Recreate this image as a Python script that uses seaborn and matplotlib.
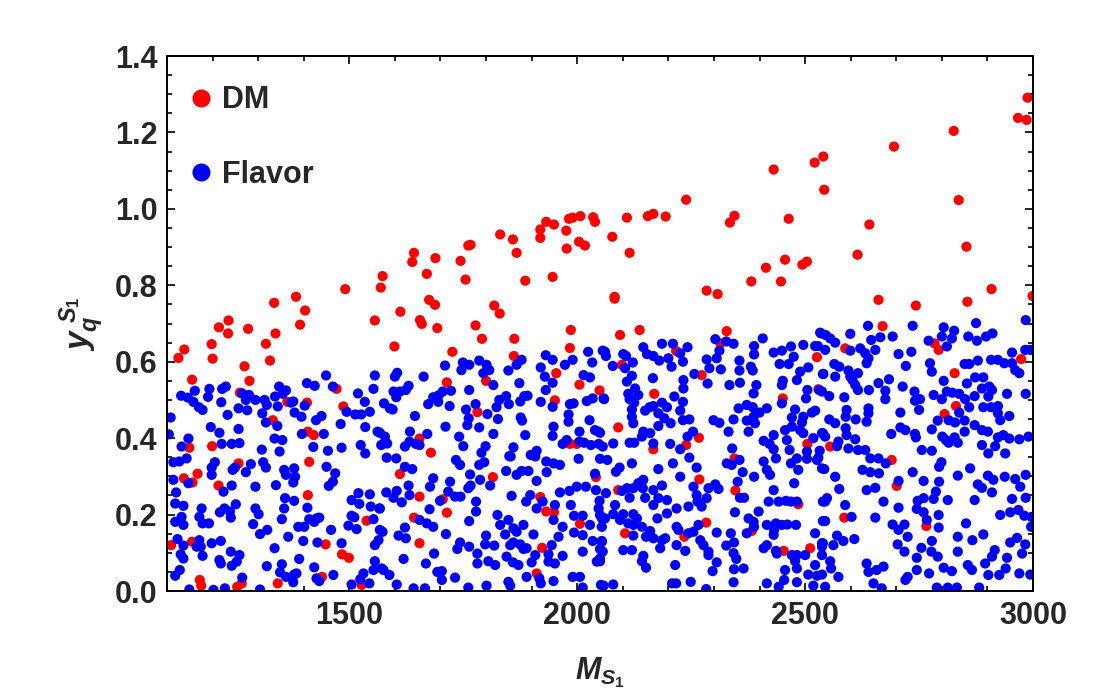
#!/usr/bin/env python3
"""
Scatter de puntos DM y Flavor en el plano (M_S1, y_q^S1)
"""

import pandas as pd
import matplotlib
matplotlib.use('Agg')
import matplotlib.pyplot as plt
import seaborn as sns
from matplotlib.lines import Line2D
from matplotlib.ticker import MultipleLocator, FormatStrFormatter

# Puntos: (M_S1, y_q)
dm_points = [
    (1573, 0.824), (1569, 0.794), (1491, 0.790), (1383, 0.770), (1335, 0.754), (1403, 0.734),
    (1235, 0.708), (1556, 0.708), (1214, 0.690), (1278, 0.686), (1392, 0.697),
    (1642, 0.885), (1638, 0.861), (1689, 0.871), (1670, 0.830), (1744, 0.864), (1761, 0.904),
    (1766, 0.906), (1755, 0.815), (1831, 0.933), (1859, 0.920), (1867, 0.885), (1886, 0.812),
    (1946, 0.822), (1919, 0.946), (1919, 0.924), (1932, 0.966), (1949, 0.959), (1976, 0.943),
    (1982, 0.974), (1990, 0.977), (2007, 0.981), (2035, 0.978), (2039, 0.966), (1977, 0.896),
    (2004, 0.914), (2017, 0.904), (1612, 0.731), (1675, 0.762), (1688, 0.749), (1655, 0.709),
    (1659, 0.699), (1693, 0.688), (1777, 0.695), (1818, 0.747), (1830, 0.726), (1986, 0.683),
    (2077, 0.927), (2109, 0.977), (2115, 0.885), (2155, 0.981), (2167, 0.987), (2194, 0.980),
    (2239, 1.024), (2335, 0.964), (2345, 0.982), (2431, 1.103), (2464, 0.974), (2521, 1.121),
    (2540, 1.137), (2542, 1.050), (2082, 0.770), (2082, 0.765), (2284, 0.786), (2308, 0.777),
    (2382, 0.810), (2414, 0.846), (2447, 0.810), (2456, 0.867), (2494, 0.854), (2504, 0.862),
    (2137, 0.683), (2328, 0.680),
    (2695, 1.163), (2826, 1.204), (2837, 1.023), (2967, 1.238), (2986, 1.233), (2988, 1.291),
    (2641, 0.959), (2615, 0.880), (2854, 0.901), (2661, 0.762), (2743, 0.747), (2856, 0.757),
    (2909, 0.790), (2999, 0.772), (2670, 0.693),
    (1125, 0.610), (1138, 0.632), (1198, 0.646), (1200, 0.608), (1234, 0.674), (1317, 0.647),
    (1338, 0.674), (1326, 0.603), (1270, 0.588), (1281, 0.550), (1155, 0.553), (1472, 0.529),
    (1260, 0.519), (1364, 0.495), (1407, 0.493), (1487, 0.483), (1332, 0.447), (1409, 0.417),
    (1422, 0.408), (1149, 0.375), (1199, 0.379),
    (1137, 0.295), (1156, 0.284), (1167, 0.307), (1213, 0.276), (1257, 0.334), (1412, 0.338),
    (1409, 0.251), (1538, 0.184), (1109, 0.120), (1155, 0.129), (1448, 0.122), (1484, 0.096),
    (1499, 0.087), (1440, 0.037), (1343, 0.020), (1172, 0.029), (1175, 0.014), (1254, 0.011),
    (1264, 0.020), (1527, 0.016),
    (1599, 0.640), (1726, 0.626), (1791, 0.660), (1862, 0.660), (1861, 0.615), (1984, 0.636),
    (1714, 0.546), (1800, 0.550), (1954, 0.570), (2005, 0.540), (2049, 0.525), (1951, 0.499),
    (1781, 0.468), (1654, 0.399), (1679, 0.362), (1984, 0.385), (1999, 0.385),
    (1611, 0.306), (1654, 0.247), (1705, 0.240), (1642, 0.192), (1714, 0.205), (1654, 0.125),
    (1815, 0.298), (1919, 0.246), (1932, 0.208), (1949, 0.206), (2006, 0.176), (1923, 0.113),
    (1911, 0.046), (2041, 0.298),
    (2094, 0.670), (2217, 0.628), (2314, 0.648), (2098, 0.592), (2273, 0.565), (2169, 0.516),
    (2526, 0.612), (2529, 0.528), (2451, 0.504), (2090, 0.428), (2267, 0.401), (2239, 0.382),
    (2167, 0.371), (2505, 0.385),
    (2268, 0.292), (2347, 0.263), (2283, 0.179), (2105, 0.151), (2235, 0.142), (2383, 0.157),
    (2511, 0.112), (2485, 0.227), (2453, 0.105), (2345, 0.347), (2090, 0.264),
    (2588, 0.635), (2784, 0.648), (2793, 0.631), (2974, 0.607), (2828, 0.570), (2831, 0.484),
    (2806, 0.463), (2555, 0.378),
    (2690, 0.343), (2701, 0.275), (2586, 0.192), (2766, 0.170),
]

flavor_points = [
    # 1100-1580, parte alta
    (1449, 0.564), (1556, 0.564), (1407, 0.544), (1424, 0.537), (1464, 0.535), (1553, 0.529),
    (1519, 0.517), (1534, 0.495), (1576, 0.491), (1131, 0.511), (1146, 0.506), (1161, 0.524),
    (1158, 0.495), (1170, 0.481), (1178, 0.474), (1193, 0.529), (1190, 0.508), (1221, 0.529),
    (1229, 0.535), (1219, 0.494), (1233, 0.461), (1265, 0.517), (1280, 0.513), (1273, 0.500),
    (1294, 0.500), (1257, 0.478), (1276, 0.473), (1314, 0.500), (1319, 0.487), (1337, 0.509),
    (1343, 0.483), (1309, 0.465), (1346, 0.535), (1361, 0.525), (1354, 0.516), (1372, 0.493),
    (1377, 0.496), (1380, 0.467), (1395, 0.456), (1402, 0.485), (1427, 0.447), (1439, 0.458),
    (1513, 0.462), (1526, 0.462), (1545, 0.469), (1494, 0.469), (1481, 0.437), (1535, 0.429),
    (1562, 0.417), (1108, 0.454), (1104, 0.410), (1147, 0.399), (1132, 0.378), (1196, 0.429),
    (1215, 0.414), (1220, 0.385), (1242, 0.385), (1259, 0.387), (1257, 0.424), (1317, 0.441),
    (1342, 0.432), (1336, 0.399), (1353, 0.395), (1308, 0.370), (1347, 0.365), (1396, 0.411),
    (1444, 0.411), (1421, 0.377), (1453, 0.367), (1483, 0.375), (1525, 0.382), (1570, 0.382),
    (1535, 0.360),
    # 1100-1580, parte baja
    (1114, 0.337), (1127, 0.339), (1143, 0.347), (1114, 0.291), (1147, 0.282), (1120, 0.258),
    (1118, 0.229), (1136, 0.223), (1198, 0.323), (1205, 0.337), (1198, 0.304), (1244, 0.317),
    (1249, 0.323), (1273, 0.311), (1284, 0.332), (1311, 0.337), (1317, 0.323), (1224, 0.260),
    (1242, 0.276), (1294, 0.273), (1339, 0.277), (1357, 0.317), (1361, 0.304), (1379, 0.321),
    (1381, 0.299), (1377, 0.284), (1359, 0.243), (1379, 0.236), (1450, 0.325), (1469, 0.308),
    (1464, 0.286), (1455, 0.275), (1520, 0.256), (1545, 0.253), (1505, 0.238), (1522, 0.228),
    (1547, 0.221), (1566, 0.216), (1176, 0.216), (1171, 0.194), (1178, 0.177), (1192, 0.177),
    (1216, 0.206), (1226, 0.216), (1240, 0.192), (1251, 0.227), (1238, 0.208), (1294, 0.216),
    (1301, 0.201), (1289, 0.175), (1357, 0.216), (1352, 0.188), (1408, 0.218), (1412, 0.188),
    (1428, 0.190), (1434, 0.192), (1423, 0.181), (1388, 0.168), (1401, 0.168), (1304, 0.149),
    (1320, 0.160), (1366, 0.142), (1399, 0.131), (1430, 0.127), (1460, 0.160), (1483, 0.125),
    (1498, 0.171), (1511, 0.193), (1516, 0.162), (1505, 0.197), (1553, 0.188), (1567, 0.160),
    (1564, 0.133), (1556, 0.120), (1118, 0.181), (1136, 0.173), (1132, 0.194), (1123, 0.136),
    (1136, 0.119), (1130, 0.096), (1136, 0.085), (1128, 0.055), (1118, 0.040), (1171, 0.133),
    (1174, 0.116), (1178, 0.092), (1165, 0.116), (1198, 0.125), (1218, 0.131), (1215, 0.081),
    (1218, 0.072), (1240, 0.103), (1259, 0.094), (1253, 0.077), (1242, 0.066), (1265, 0.035),
    (1336, 0.112), (1319, 0.065), (1352, 0.070), (1348, 0.049), (1361, 0.037), (1379, 0.043),
    (1384, 0.046), (1377, 0.023), (1390, 0.084), (1423, 0.062), (1428, 0.033), (1434, 0.026),
    (1465, 0.042), (1505, 0.017), (1524, 0.031), (1531, 0.046), (1544, 0.020), (1553, 0.055),
    (1571, 0.059), (1556, 0.078), (1149, 0.004), (1227, 0.007), (1304, 0.004), (1202, 0.003),
    # 1570-2060, parte alta
    (1600, 0.561), (1605, 0.571), (1663, 0.561), (1710, 0.590), (1749, 0.598), (1746, 0.578),
    (1763, 0.592), (1785, 0.603), (1801, 0.592), (1807, 0.578), (1794, 0.570), (1816, 0.539),
    (1849, 0.577), (1867, 0.592), (1878, 0.605), (1931, 0.617), (1946, 0.605), (1920, 0.585),
    (1973, 0.592), (1990, 0.605), (2024, 0.626), (2033, 0.598), (2056, 0.629), (2014, 0.565),
    (2028, 0.559), (1929, 0.561), (1946, 0.545), (1931, 0.526), (1597, 0.522), (1603, 0.507),
    (1624, 0.526), (1630, 0.537), (1611, 0.522), (1589, 0.478), (1595, 0.475), (1644, 0.458),
    (1673, 0.489), (1684, 0.507), (1696, 0.512), (1705, 0.522), (1723, 0.524), (1720, 0.484),
    (1695, 0.495), (1763, 0.526), (1756, 0.475), (1777, 0.489), (1762, 0.452), (1759, 0.434),
    (1785, 0.428), (1803, 0.463), (1823, 0.481), (1829, 0.500), (1844, 0.510), (1850, 0.489),
    (1826, 0.450), (1873, 0.544), (1875, 0.496), (1884, 0.510), (1891, 0.511), (1876, 0.454),
    (1879, 0.446), (1920, 0.495), (1946, 0.482), (1984, 0.489), (1992, 0.491), (1981, 0.462),
    (1981, 0.443), (2021, 0.497), (2034, 0.504), (2058, 0.504), (2027, 0.447), (2047, 0.417),
    (2039, 0.421), (1948, 0.430), (1946, 0.406), (1968, 0.385), (1977, 0.395), (2005, 0.417),
    (2005, 0.391), (2015, 0.388), (2030, 0.382), (2047, 0.385), (2056, 0.378), (1567, 0.414),
    (1578, 0.404), (1583, 0.386), (1633, 0.417), (1632, 0.391), (1622, 0.378), (1646, 0.385),
    (1654, 0.382), (1711, 0.430), (1671, 0.411), (1741, 0.404), (1750, 0.379), (1816, 0.411),
    (1886, 0.408), (1799, 0.379), (1790, 0.362), (1860, 0.376), (1851, 0.353), (1911, 0.367),
    (1898, 0.356),
    # 1570-2060, parte baja
    (1582, 0.349), (1603, 0.347), (1622, 0.325), (1638, 0.319), (1734, 0.343), (1743, 0.330),
    (1765, 0.305), (1785, 0.330), (1796, 0.337), (1787, 0.291), (1766, 0.276), (1761, 0.269),
    (1744, 0.247), (1732, 0.247), (1721, 0.286), (1717, 0.260), (1699, 0.236), (1684, 0.295),
    (1677, 0.273), (1630, 0.276), (1632, 0.251), (1615, 0.232), (1597, 0.244), (1581, 0.258),
    (1604, 0.262), (1809, 0.276), (1844, 0.314), (1867, 0.304), (1878, 0.314), (1893, 0.314),
    (1911, 0.288), (1933, 0.311), (1932, 0.339), (1948, 0.334), (1962, 0.330), (1854, 0.352),
    (1908, 0.352), (1856, 0.249), (1778, 0.234), (1778, 0.208), (1763, 0.183), (1676, 0.214),
    (1654, 0.186), (1670, 0.177), (1684, 0.168), (1622, 0.166), (1608, 0.145), (1624, 0.138),
    (1573, 0.155), (1567, 0.216), (1712, 0.149), (1743, 0.127), (1737, 0.110), (1763, 0.116),
    (1781, 0.098), (1781, 0.072), (1800, 0.145), (1798, 0.122), (1818, 0.119), (1825, 0.199),
    (1831, 0.173), (1849, 0.186), (1860, 0.164), (1882, 0.173), (1867, 0.155), (1842, 0.148),
    (1853, 0.120), (1860, 0.127), (1875, 0.122), (1882, 0.110), (1889, 0.112), (1888, 0.234),
    (1897, 0.251), (1911, 0.216), (1924, 0.234), (1951, 0.225), (1948, 0.186), (1968, 0.168),
    (1959, 0.142), (1944, 0.120), (1937, 0.096), (1937, 0.077), (1951, 0.072), (1968, 0.092),
    (1904, 0.148), (1908, 0.094), (1900, 0.075), (1962, 0.258), (1983, 0.262), (1986, 0.225),
    (1999, 0.273), (2019, 0.273), (2041, 0.264), (2039, 0.307), (2050, 0.346), (2003, 0.346),
    (1993, 0.197), (2012, 0.197), (2028, 0.173), (2047, 0.216), (2049, 0.236), (2054, 0.190),
    (2054, 0.168), (1993, 0.153), (2012, 0.146), (2034, 0.131), (2054, 0.131), (2012, 0.103),
    (2050, 0.110), (2043, 0.077), (2050, 0.085), (1820, 0.068), (1805, 0.078), (1845, 0.090),
    (1859, 0.075), (1871, 0.068), (1668, 0.072), (1686, 0.098), (1693, 0.050), (1703, 0.052),
    (1703, 0.029), (1732, 0.035), (1619, 0.084), (1575, 0.055), (1588, 0.042), (1604, 0.017),
    (1641, 0.007), (1666, 0.007), (1761, 0.009), (1801, 0.014), (1849, 0.024), (1853, 0.014),
    (1889, 0.037), (1917, 0.033), (1920, 0.020), (1948, 0.026), (1990, 0.037), (2006, 0.037),
    (2012, 0.009), (2052, 0.016),
    # 2050-2540, parte alta
    (2061, 0.626), (2063, 0.615), (2101, 0.620), (2107, 0.615), (2122, 0.598), (2078, 0.589),
    (2105, 0.583), (2145, 0.638), (2153, 0.620), (2167, 0.615), (2180, 0.603), (2186, 0.647),
    (2210, 0.647), (2226, 0.622), (2242, 0.638), (2200, 0.609), (2207, 0.587), (2232, 0.600),
    (2257, 0.568), (2284, 0.606), (2303, 0.659), (2306, 0.609), (2327, 0.653), (2343, 0.647),
    (2312, 0.629), (2290, 0.583), (2315, 0.580), (2356, 0.603), (2356, 0.577), (2381, 0.587),
    (2388, 0.641), (2388, 0.619), (2407, 0.661), (2385, 0.577), (2431, 0.624), (2449, 0.629),
    (2444, 0.594), (2464, 0.594), (2469, 0.640), (2475, 0.613), (2496, 0.644), (2522, 0.641),
    (2535, 0.674), (2489, 0.574), (2507, 0.585), (2539, 0.568),
    (2109, 0.548), (2120, 0.563), (2112, 0.516), (2115, 0.502), (2127, 0.530), (2134, 0.513),
    (2125, 0.493), (2166, 0.557), (2059, 0.502), (2120, 0.475), (2120, 0.456), (2123, 0.439),
    (2149, 0.472), (2159, 0.481), (2167, 0.484), (2178, 0.465), (2186, 0.493), (2197, 0.481),
    (2191, 0.452), (2205, 0.439), (2145, 0.417), (2160, 0.413), (2178, 0.432), (2226, 0.472),
    (2232, 0.495), (2233, 0.552), (2233, 0.530), (2213, 0.509), (2232, 0.447), (2246, 0.449),
    (2254, 0.417), (2242, 0.404), (2142, 0.404), (2167, 0.386), (2125, 0.388), (2115, 0.388),
    (2079, 0.386), (2050, 0.414), (2204, 0.385), (2226, 0.371),
    (2286, 0.543), (2334, 0.539), (2357, 0.545), (2393, 0.539), (2387, 0.517), (2354, 0.478),
    (2372, 0.487), (2385, 0.481), (2416, 0.478), (2400, 0.467), (2387, 0.456), (2372, 0.446),
    (2390, 0.439), (2343, 0.449), (2299, 0.447), (2312, 0.440), (2332, 0.417), (2340, 0.373),
    (2376, 0.417),
    (2451, 0.550), (2449, 0.539), (2482, 0.552), (2505, 0.526), (2502, 0.504), (2537, 0.522),
    (2449, 0.491), (2478, 0.475), (2471, 0.454), (2496, 0.456), (2493, 0.441), (2515, 0.467),
    (2489, 0.421), (2471, 0.430), (2456, 0.421), (2431, 0.408), (2409, 0.393), (2422, 0.385),
    (2460, 0.395), (2496, 0.413), (2518, 0.400), (2539, 0.413), (2431, 0.371), (2466, 0.369),
    (2504, 0.365), (2532, 0.367),
    # 2050-2540, parte baja
    (2066, 0.343), (2085, 0.312), (2093, 0.323), (2120, 0.334), (2178, 0.319), (2210, 0.334),
    (2246, 0.349), (2226, 0.299), (2262, 0.323), (2328, 0.334), (2339, 0.330), (2356, 0.343),
    (2363, 0.311), (2388, 0.299), (2352, 0.286), (2409, 0.339), (2416, 0.317), (2423, 0.304),
    (2436, 0.347), (2469, 0.334), (2485, 0.317), (2482, 0.347), (2504, 0.346), (2526, 0.343),
    (2537, 0.321), (2476, 0.282), (2431, 0.264),
    (2063, 0.256), (2083, 0.225), (2098, 0.262), (2109, 0.269), (2123, 0.269), (2115, 0.244),
    (2134, 0.282), (2145, 0.291), (2144, 0.269), (2149, 0.244), (2167, 0.264), (2167, 0.225),
    (2186, 0.276), (2178, 0.243), (2197, 0.238), (2197, 0.203), (2176, 0.190), (2218, 0.216),
    (2244, 0.221), (2255, 0.273), (2262, 0.251), (2264, 0.234), (2273, 0.221), (2284, 0.243),
    (2288, 0.269), (2303, 0.279), (2310, 0.267), (2357, 0.244), (2366, 0.244), (2346, 0.206),
    (2398, 0.208), (2376, 0.190), (2387, 0.181), (2388, 0.168), (2372, 0.151), (2420, 0.234),
    (2442, 0.234), (2458, 0.236), (2469, 0.234), (2482, 0.234), (2416, 0.173), (2436, 0.177),
    (2449, 0.173), (2461, 0.174), (2480, 0.173), (2431, 0.147), (2432, 0.160), (2539, 0.234),
    (2539, 0.183),
    (2050, 0.199), (2061, 0.190), (2079, 0.201), (2094, 0.186), (2101, 0.201), (2112, 0.177),
    (2123, 0.201), (2123, 0.173), (2131, 0.190), (2142, 0.168), (2123, 0.145), (2151, 0.142),
    (2160, 0.157), (2167, 0.138), (2186, 0.133), (2193, 0.138), (2182, 0.112), (2222, 0.160),
    (2218, 0.168), (2244, 0.151), (2255, 0.155), (2266, 0.173), (2270, 0.133), (2277, 0.120),
    (2288, 0.103), (2288, 0.094), (2306, 0.153), (2306, 0.075), (2337, 0.151), (2344, 0.127),
    (2327, 0.119), (2343, 0.099), (2349, 0.084), (2344, 0.057), (2365, 0.059), (2297, 0.052),
    (2215, 0.068), (2218, 0.120), (2237, 0.105), (2142, 0.078), (2145, 0.092), (2151, 0.061),
    (2120, 0.107), (2101, 0.107), (2054, 0.129), (2056, 0.103), (2050, 0.078), (2409, 0.112),
    (2416, 0.120), (2436, 0.105), (2438, 0.098), (2471, 0.094), (2482, 0.094), (2478, 0.078),
    (2500, 0.094), (2456, 0.055), (2482, 0.059), (2507, 0.043), (2526, 0.040), (2539, 0.125),
    (2537, 0.094),
    (2058, 0.014), (2079, 0.017), (2208, 0.020), (2217, 0.020), (2249, 0.024), (2283, 0.005),
    (2343, 0.023), (2416, 0.020), (2442, 0.011), (2454, 0.029), (2482, 0.023), (2518, 0.014),
    # 2520-3000, parte alta
    (2638, 0.694), (2736, 0.694), (2804, 0.690), (2827, 0.681), (2875, 0.701), (2984, 0.709),
    (2533, 0.676), (2545, 0.670), (2555, 0.661), (2566, 0.650), (2544, 0.631), (2528, 0.641),
    (2599, 0.673), (2645, 0.657), (2665, 0.664), (2692, 0.666), (2654, 0.631), (2621, 0.635),
    (2632, 0.622), (2639, 0.609), (2635, 0.596), (2599, 0.629), (2705, 0.620), (2733, 0.626),
    (2721, 0.589), (2771, 0.655), (2800, 0.666), (2822, 0.661), (2811, 0.640), (2858, 0.666),
    (2877, 0.655), (2897, 0.666), (2911, 0.674), (2850, 0.594), (2860, 0.594), (2879, 0.603),
    (2908, 0.605), (2923, 0.605), (2954, 0.624), (2983, 0.631), (2994, 0.631), (2937, 0.596),
    (2954, 0.596), (2961, 0.578), (2970, 0.570), (2774, 0.596), (2778, 0.574), (2804, 0.550),
    (2540, 0.568), (2566, 0.561), (2564, 0.594), (2575, 0.587), (2595, 0.577), (2599, 0.561),
    (2616, 0.570), (2604, 0.552), (2610, 0.539), (2616, 0.526), (2640, 0.526), (2661, 0.544),
    (2684, 0.554), (2676, 0.524), (2676, 0.502), (2714, 0.535), (2740, 0.522), (2741, 0.498),
    (2752, 0.502), (2750, 0.474), (2709, 0.467), (2639, 0.478), (2639, 0.465), (2635, 0.443),
    (2611, 0.449), (2591, 0.474), (2589, 0.456), (2553, 0.510), (2586, 0.507), (2531, 0.526),
    (2553, 0.449), (2566, 0.439), (2522, 0.472),
    (2782, 0.513), (2800, 0.502), (2811, 0.522), (2823, 0.519), (2838, 0.516), (2851, 0.502),
    (2860, 0.481), (2872, 0.510), (2888, 0.530), (2904, 0.535), (2910, 0.526), (2902, 0.509),
    (2891, 0.481), (2908, 0.481), (2923, 0.484), (2923, 0.465), (2928, 0.447), (2948, 0.458),
    (2943, 0.516), (2984, 0.516), (2891, 0.559), (2873, 0.559), (2855, 0.543),
    (2791, 0.446), (2815, 0.447), (2829, 0.441), (2838, 0.467), (2850, 0.446), (2850, 0.417),
    (2872, 0.434), (2828, 0.402), (2801, 0.404), (2809, 0.395), (2778, 0.423), (2741, 0.411),
    (2743, 0.402), (2709, 0.428), (2720, 0.421), (2689, 0.411), (2589, 0.426), (2591, 0.408),
    (2610, 0.397), (2573, 0.391), (2570, 0.379), (2544, 0.404), (2537, 0.413), (2595, 0.373),
    (2616, 0.369), (2632, 0.369), (2888, 0.421), (2901, 0.417), (2923, 0.402), (2935, 0.408),
    (2948, 0.399), (2888, 0.382), (2917, 0.379), (2970, 0.397), (2990, 0.404), (2902, 0.360),
    (2939, 0.360), (2835, 0.388), (2756, 0.369), (2778, 0.367), (2815, 0.388),
    # 2520-3000, parte baja
    (2529, 0.349), (2542, 0.319), (2566, 0.299), (2575, 0.267), (2548, 0.243), (2544, 0.234),
    (2588, 0.225), (2602, 0.194), (2544, 0.183), (2522, 0.151), (2537, 0.125), (2537, 0.116),
    (2562, 0.120), (2570, 0.145), (2584, 0.131), (2608, 0.136), (2635, 0.264), (2654, 0.270),
    (2626, 0.317), (2643, 0.311), (2662, 0.308), (2677, 0.334), (2643, 0.347), (2661, 0.347),
    (2705, 0.288), (2736, 0.311), (2760, 0.288), (2794, 0.325), (2799, 0.337), (2794, 0.286),
    (2787, 0.260), (2782, 0.241), (2813, 0.238), (2760, 0.243), (2747, 0.236), (2745, 0.215),
    (2760, 0.206), (2767, 0.186), (2705, 0.218), (2672, 0.234), (2654, 0.192), (2692, 0.174),
    (2718, 0.174), (2705, 0.160), (2725, 0.142), (2703, 0.122), (2718, 0.103), (2755, 0.113),
    (2745, 0.087), (2778, 0.131), (2777, 0.103), (2791, 0.090), (2793, 0.199), (2793, 0.166),
    (2835, 0.142), (2835, 0.103), (2835, 0.302), (2862, 0.321), (2872, 0.238), (2879, 0.279),
    (2888, 0.270), (2901, 0.302), (2913, 0.291), (2910, 0.258), (2938, 0.299), (2961, 0.293),
    (2972, 0.273), (2984, 0.304), (2984, 0.244), (2954, 0.241), (2928, 0.199), (2950, 0.206),
    (2968, 0.212), (2981, 0.197), (2997, 0.194), (2996, 0.168), (2965, 0.139), (2950, 0.127),
    (2983, 0.122), (2976, 0.098), (2916, 0.107), (2910, 0.090), (2943, 0.087), (2940, 0.059),
    (2891, 0.148), (2867, 0.133), (2853, 0.177), (2857, 0.068), (2866, 0.055), (2895, 0.072),
    (2902, 0.042), (2926, 0.042), (2970, 0.046), (2994, 0.043), (2555, 0.078), (2557, 0.059),
    (2573, 0.037), (2537, 0.043), (2522, 0.068), (2635, 0.072), (2639, 0.050), (2657, 0.055),
    (2650, 0.020), (2672, 0.064), (2668, 0.007), (2725, 0.037), (2720, 0.029), (2745, 0.055),
    (2772, 0.046), (2804, 0.061), (2822, 0.052), (2789, 0.009), (2813, 0.009), (2833, 0.009),
    (2882, 0.009), (2544, 0.011),
]

series_names = ['DM', 'Flavor']
series_colors = ['#ff0000', '#0000ff']
x_ticks = [1500, 2000, 2500, 3000]
y_ticks = [0.0, 0.2, 0.4, 0.6, 0.8, 1.0, 1.2, 1.4]

sns.set_theme(style='ticks')
plt.rcParams['font.family'] = ['Liberation Sans', 'DejaVu Sans']
plt.rcParams['font.weight'] = 'bold'
plt.rcParams['mathtext.fontset'] = 'custom'
plt.rcParams['mathtext.rm'] = 'Liberation Sans:bold'
plt.rcParams['mathtext.it'] = 'Liberation Sans:italic:bold'
plt.rcParams['mathtext.bf'] = 'Liberation Sans:bold'

dm_df = pd.DataFrame(dm_points, columns=['M', 'y']).assign(set='DM')
fl_df = pd.DataFrame(flavor_points, columns=['M', 'y']).assign(set='Flavor')
df = pd.concat([dm_df, fl_df], ignore_index=True)
palette = dict(zip(series_names, series_colors))

fig = plt.figure(figsize=(11.06, 6.94), dpi=100)
ax = fig.add_axes([0.151, 0.1484, 0.783, 0.7709])

sns.scatterplot(data=df, x='M', y='y', hue='set', palette=palette,
                s=54, linewidth=0, legend=False, ax=ax)

ax.set_xlim(1100, 3000)
ax.set_ylim(0, 1.4)
ax.set_xticks(x_ticks)
ax.set_yticks(y_ticks)
ax.xaxis.set_minor_locator(MultipleLocator(100))
ax.yaxis.set_minor_locator(MultipleLocator(0.05))
ax.yaxis.set_major_formatter(FormatStrFormatter('%.1f'))

for side in ['top', 'right', 'bottom', 'left']:
    ax.spines[side].set_visible(True)
    ax.spines[side].set_linewidth(1.4)
    ax.spines[side].set_color('black')

ax.tick_params(which='both', direction='in', top=True, right=True, color='black', width=1.2)
ax.tick_params(which='major', length=6, labelsize=22, pad=7)
ax.tick_params(which='minor', length=3.5)
for lab in ax.get_xticklabels() + ax.get_yticklabels():
    lab.set_fontweight('bold')

ax.set_xlabel(r'$M_{S_1}$', fontsize=22, labelpad=18)
ax.set_ylabel(r'$y_q^{\ S_1}$', fontsize=24, labelpad=6)

handles = [Line2D([0], [0], marker='o', linestyle='none', markersize=13,
                  markerfacecolor=c, markeredgewidth=0) for c in series_colors]
ax.legend(handles, series_names, loc='upper left', bbox_to_anchor=(0.0, 0.985),
          frameon=False, prop={'size': 22, 'weight': 'bold'},
          handlelength=0.8, handletextpad=0.3, labelspacing=1.45, borderaxespad=0.3)

plt.savefig('out.png', dpi=100)
